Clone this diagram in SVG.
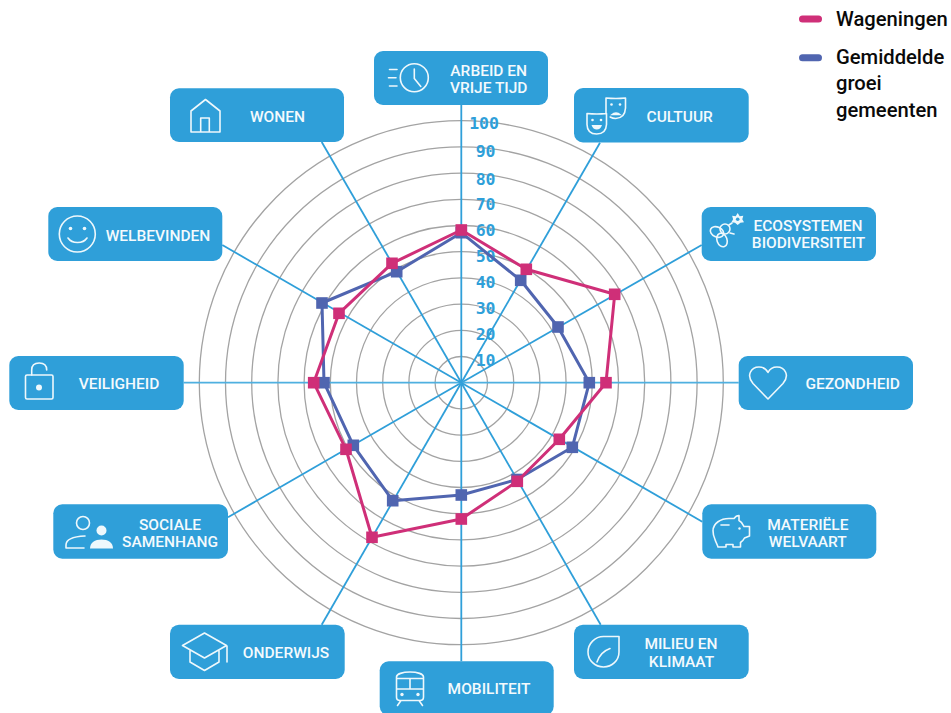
<svg xmlns="http://www.w3.org/2000/svg" width="951" height="713" viewBox="0 0 951 713">
<style>
.box{fill:#2f9fd9}
.t{font-family:Roboto,"Noto Sans",sans-serif;font-weight:500;font-size:15.5px;fill:#f4fafd;text-anchor:middle}
.i{fill:none;stroke:#eef8fc;stroke-width:1.6;stroke-linecap:round;stroke-linejoin:round}
.f{fill:#eef8fc;stroke:none}
.ring{fill:none;stroke:#a3a3a3;stroke-width:1.3}
.sp{stroke:#2f9fd9;stroke-width:1.8}
.h{stroke:#4fb0e0}
.n{font-family:"DejaVu Sans Mono",monospace;font-weight:700;font-size:16.500px;fill:#2f9fd9;text-anchor:end}
.lg{font-family:Roboto,"Noto Sans",sans-serif;font-weight:500;font-size:20.200px;fill:#0a0a0a}
.pk{fill:none;stroke:#cf2f78;stroke-width:3;stroke-linejoin:round}
.bl{fill:none;stroke:#5065b0;stroke-width:3;stroke-linejoin:round}
.pm{fill:#cf2f78}
.bm{fill:#5065b0}
</style>
<defs>
<rect id="pm" class="pm" x="-5.800" y="-5.800" width="11.600" height="11.600"/>
<rect id="bm" class="bm" x="-5.800" y="-5.800" width="11.600" height="11.600"/>
</defs>
<g id="rings">
<circle class="ring" cx="461.3" cy="382.7" r="26.2"/>
<circle class="ring" cx="461.3" cy="382.7" r="52.4"/>
<circle class="ring" cx="461.3" cy="382.7" r="78.6"/>
<circle class="ring" cx="461.3" cy="382.7" r="104.8"/>
<circle class="ring" cx="461.3" cy="382.7" r="131"/>
<circle class="ring" cx="461.3" cy="382.7" r="157.2"/>
<circle class="ring" cx="461.3" cy="382.7" r="183.4"/>
<circle class="ring" cx="461.3" cy="382.7" r="209.6"/>
<circle class="ring" cx="461.3" cy="382.7" r="235.8"/>
<circle class="ring" cx="461.3" cy="382.7" r="262"/>
</g>
<g id="connectors">
<line class="sp" x1="461.3" y1="382.7" x2="461.3" y2="105"/>
<line class="sp" x1="461.3" y1="382.7" x2="600" y2="142.7"/>
<line class="sp" x1="461.3" y1="382.7" x2="701.7" y2="245"/>
<line class="sp h" x1="461.3" y1="382.7" x2="738.7" y2="382.7"/>
<line class="sp" x1="461.3" y1="382.7" x2="702.3" y2="521.7"/>
<line class="sp" x1="461.3" y1="382.7" x2="600.7" y2="624.7"/>
<line class="sp" x1="461.3" y1="382.7" x2="461.3" y2="661.3"/>
<line class="sp" x1="461.3" y1="382.7" x2="321.7" y2="624.7"/>
<line class="sp" x1="461.3" y1="382.7" x2="228" y2="517.3"/>
<line class="sp h" x1="461.3" y1="382.7" x2="183.7" y2="382.7"/>
<line class="sp" x1="461.3" y1="382.7" x2="222.3" y2="245"/>
<line class="sp" x1="461.3" y1="382.7" x2="321.7" y2="142"/>
</g>
<g id="scale">
<text class="n" x="499" y="129">100</text>
<text class="n" x="495.500" y="156.500">90</text>
<text class="n" x="495.500" y="184.500">80</text>
<text class="n" x="495.500" y="209.500">70</text>
<text class="n" x="495.500" y="236">60</text>
<text class="n" x="495.500" y="262">50</text>
<text class="n" x="495.500" y="288">40</text>
<text class="n" x="495.500" y="314">30</text>
<text class="n" x="495.500" y="340">20</text>
<text class="n" x="495.500" y="366">10</text>
</g>
<g id="series-gemiddelde">
<polygon class="bl" points="461.3,232.7 520.7,280.3 558,327 589.300,382.7 572.300,447.3 517,479.500 461.300,495 392.700,500.700 353.300,445.300 324,382.700 322,303 396.700,271.700"/>
<use href="#bm" x="461.3" y="232.7"/><use href="#bm" x="520.7" y="280.3"/><use href="#bm" x="558" y="327"/><use href="#bm" x="589.3" y="382.7"/><use href="#bm" x="572.3" y="447.3"/><use href="#bm" x="517" y="479.5"/><use href="#bm" x="461.3" y="495"/><use href="#bm" x="392.7" y="500.7"/><use href="#bm" x="353.3" y="445.3"/><use href="#bm" x="324" y="382.7"/><use href="#bm" x="322" y="303"/><use href="#bm" x="396.7" y="271.7"/>
</g>
<g id="series-wageningen">
<polygon class="pk" points="461.3,230 526.3,269.3 614.700,294.300 606,382.700 559.300,439.300 517.300,481.300 461.300,519 372,537.300 346,449.300 313.700,382.700 339,313.300 392,263.300"/>
<use href="#pm" x="461.3" y="230"/><use href="#pm" x="526.3" y="269.3"/><use href="#pm" x="614.7" y="294.3"/><use href="#pm" x="606" y="382.7"/><use href="#pm" x="559.3" y="439.3"/><use href="#pm" x="517.3" y="481.3"/><use href="#pm" x="461.3" y="519"/><use href="#pm" x="372" y="537.3"/><use href="#pm" x="346" y="449.3"/><use href="#pm" x="313.7" y="382.7"/><use href="#pm" x="339" y="313.3"/><use href="#pm" x="392" y="263.3"/>
</g>
<g id="legend">
<line x1="802.500" y1="19" x2="818.500" y2="19" stroke="#cf2f78" stroke-width="7" stroke-linecap="round"/>
<line x1="802.500" y1="57.700" x2="818.500" y2="57.700" stroke="#5065b0" stroke-width="7" stroke-linecap="round"/>
<text class="lg" x="836" y="25.500">Wageningen</text>
<text class="lg" x="836" y="64">Gemiddelde</text>
<text class="lg" x="836" y="90">groei</text>
<text class="lg" x="836" y="116.500">gemeenten</text>
</g>
<g id="arbeid">
<rect class="box" x="374" y="51" width="174" height="54" rx="9"/>
<circle class="i" cx="414.300" cy="77.700" r="14"/>
<path class="i" d="M414.300 69v9.500l6.500 8M389.500 69.500h7.500M388.500 77.700h7.500M389.500 86h7.500"/>
<text class="t" x="488.700" y="75.700">ARBEID EN</text>
<text class="t" x="488.700" y="93.300">VRIJE TIJD</text>
</g>
<g id="cultuur">
<rect class="box" x="574" y="88" width="174.700" height="54.500" rx="9"/>
<path class="i" d="M587 113.500q10 1 19.500 0v11q-.5 9.500-9.800 9.500q-9.500 0-9.700-9.500zM606 113v-15q10 1 19.500 0v10q-.5 10-9.800 10.500q-3 0-5.500-1.500"/>
<circle class="f" cx="592.500" cy="120" r="1.300"/><circle class="f" cx="601" cy="120" r="1.300"/>
<path class="f" d="M591.500 125h10.500q-1.500 4.500-5.200 4.500t-5.300-4.500zM611 114.500q5-4.500 10 0l1 .8h-12z"/>
<circle class="f" cx="611.500" cy="104.500" r="1.300"/><circle class="f" cx="620" cy="104.500" r="1.300"/>
<text class="t" x="679.700" y="121.500">CULTUUR</text>
</g>
<g id="ecosystemen">
<rect class="box" x="701.700" y="207" width="174.300" height="54" rx="9"/>
<ellipse class="i" cx="717" cy="232" rx="7" ry="5" transform="rotate(25 717 232)"/>
<ellipse class="i" cx="722" cy="240" rx="5" ry="7" transform="rotate(-20 722 240)"/>
<circle class="i" cx="725" cy="229" r="5"/>
<path class="i" d="M729 225l3-2M730 233l4 1"/>
<path class="f" d="M737.700 213l2 3.200 3.600-.4-1 3.400 1.700 3-3.600.6-2.700 2.300-2.700-2.300-3.600-.6 1.700-3-1-3.400 3.600.4z"/>
<circle cx="737.700" cy="219.300" r="1.800" fill="#2f9fd9"/>
<text class="t" x="808" y="230.700">ECOSYSTEMEN</text>
<text class="t" x="808.500" y="248.300">BIODIVERSITEIT</text>
</g>
<g id="gezondheid">
<rect class="box" x="738.700" y="356" width="174.300" height="54" rx="9"/>
<path class="i" d="M768 399l-15-15.500c-7-8-2-16.500 6-16.500 4.500 0 7.500 2.500 9 5.500 1.500-3 4.500-5.500 9-5.500 8 0 13 8.500 6 16.500z"/>
<text class="t" x="852.700" y="389">GEZONDHEID</text>
</g>
<g id="materiele">
<rect class="box" x="702.300" y="504.300" width="174" height="54.400" rx="9"/>
<path class="i" d="M713 531c0-8 8-12.500 16-12.500h5c1-1.500 3-3 5-3v5c2 1 4 3.500 5 6h5.500v9.500l-5 2c-1 2-2.500 3.500-4 4.500v4.500h-7.500v-2.500h-7v2.500h-8c-1-3-2-4.500-3-7.500-1.500-3-2-5.500-2-9z"/>
<path class="i" d="M721 525h8"/>
<circle class="f" cx="739.500" cy="528.500" r="1.200"/>
<text class="t" x="807.800" y="530">MATERIËLE</text>
<text class="t" x="807.800" y="547.300">WELVAART</text>
</g>
<g id="milieu">
<rect class="box" x="574" y="624.700" width="174.700" height="54.300" rx="9"/>
<path class="i" d="M619 636.500v15.500c0 8.500-7 15-15.500 15s-15.500-6.500-15.500-15 7-15.500 15.500-15.500zM597 662c2-6 6-11 13-13.500"/>
<text class="t" x="681" y="649">MILIEU EN</text>
<text class="t" x="681.500" y="666.700">KLIMAAT</text>
</g>
<g id="mobiliteit">
<rect class="box" x="379.700" y="661.300" width="174" height="54" rx="9"/>
<path class="i" d="M396.500 677c0-3 6-5 13.500-5s13.500 2 13.500 5v20c0 2-1.500 3.500-3.500 3.500h-20c-2 0-3.500-1.500-3.500-3.500zM396.500 678.500h27M396.500 689h27M410 678.500v10.500M401 700.500l-3.500 5M419 700.500l3.500 5"/>
<circle class="f" cx="402" cy="694.500" r="1.700"/><circle class="f" cx="418" cy="694.500" r="1.700"/>
<text class="t" x="489" y="694.300">MOBILITEIT</text>
</g>
<g id="onderwijs">
<rect class="box" x="170" y="624.700" width="174.700" height="54.300" rx="9"/>
<path class="i" d="M204.500 633l-22 12.500 22 12.500 22-12.500zM190 650v12l14.500 8.500 14.500-8.500v-12M227 646v16"/>
<text class="t" x="286" y="658">ONDERWIJS</text>
</g>
<g id="sociale">
<rect class="box" x="53.300" y="504.300" width="174.700" height="54.400" rx="9"/>
<circle class="i" cx="83" cy="523" r="6.500"/>
<path class="i" d="M66 548v-3c0-6 8-8.500 19-9M66 548h18"/>
<circle class="f" cx="101.500" cy="530.500" r="5"/>
<path class="f" d="M90 548.500c0-6 5-9 11.500-9s11.500 3 11.500 9z"/>
<text class="t" x="170" y="529.700">SOCIALE</text>
<text class="t" x="170" y="547">SAMENHANG</text>
</g>
<g id="veiligheid">
<rect class="box" x="9.300" y="356" width="174.400" height="54" rx="9"/>
<rect class="i" x="25.500" y="375" width="27.500" height="24" rx="1.500"/>
<path class="i" d="M31.700 375v-5c0-4.500 3-7 7.500-7s7.500 2.500 7.500 7"/>
<circle class="f" cx="39" cy="387.500" r="3"/>
<text class="t" x="119" y="389">VEILIGHEID</text>
</g>
<g id="welbevinden">
<rect class="box" x="48.300" y="207" width="174" height="54" rx="9"/>
<circle class="i" cx="77.300" cy="234" r="18"/>
<circle class="f" cx="70.500" cy="228.500" r="1.800"/><circle class="f" cx="84.500" cy="228.500" r="1.800"/>
<path class="i" d="M68 238c4 6 15 6 19 0"/>
<text class="t" x="158" y="241">WELBEVINDEN</text>
</g>
<g id="wonen">
<rect class="box" x="170" y="88.300" width="174" height="53.700" rx="9"/>
<path class="i" d="M191 132v-21l14.500-11.500 14.500 11.500v21zM200.700 132v-14h8.600v14"/>
<text class="t" x="277.500" y="121.500">WONEN</text>
</g>
</svg>
